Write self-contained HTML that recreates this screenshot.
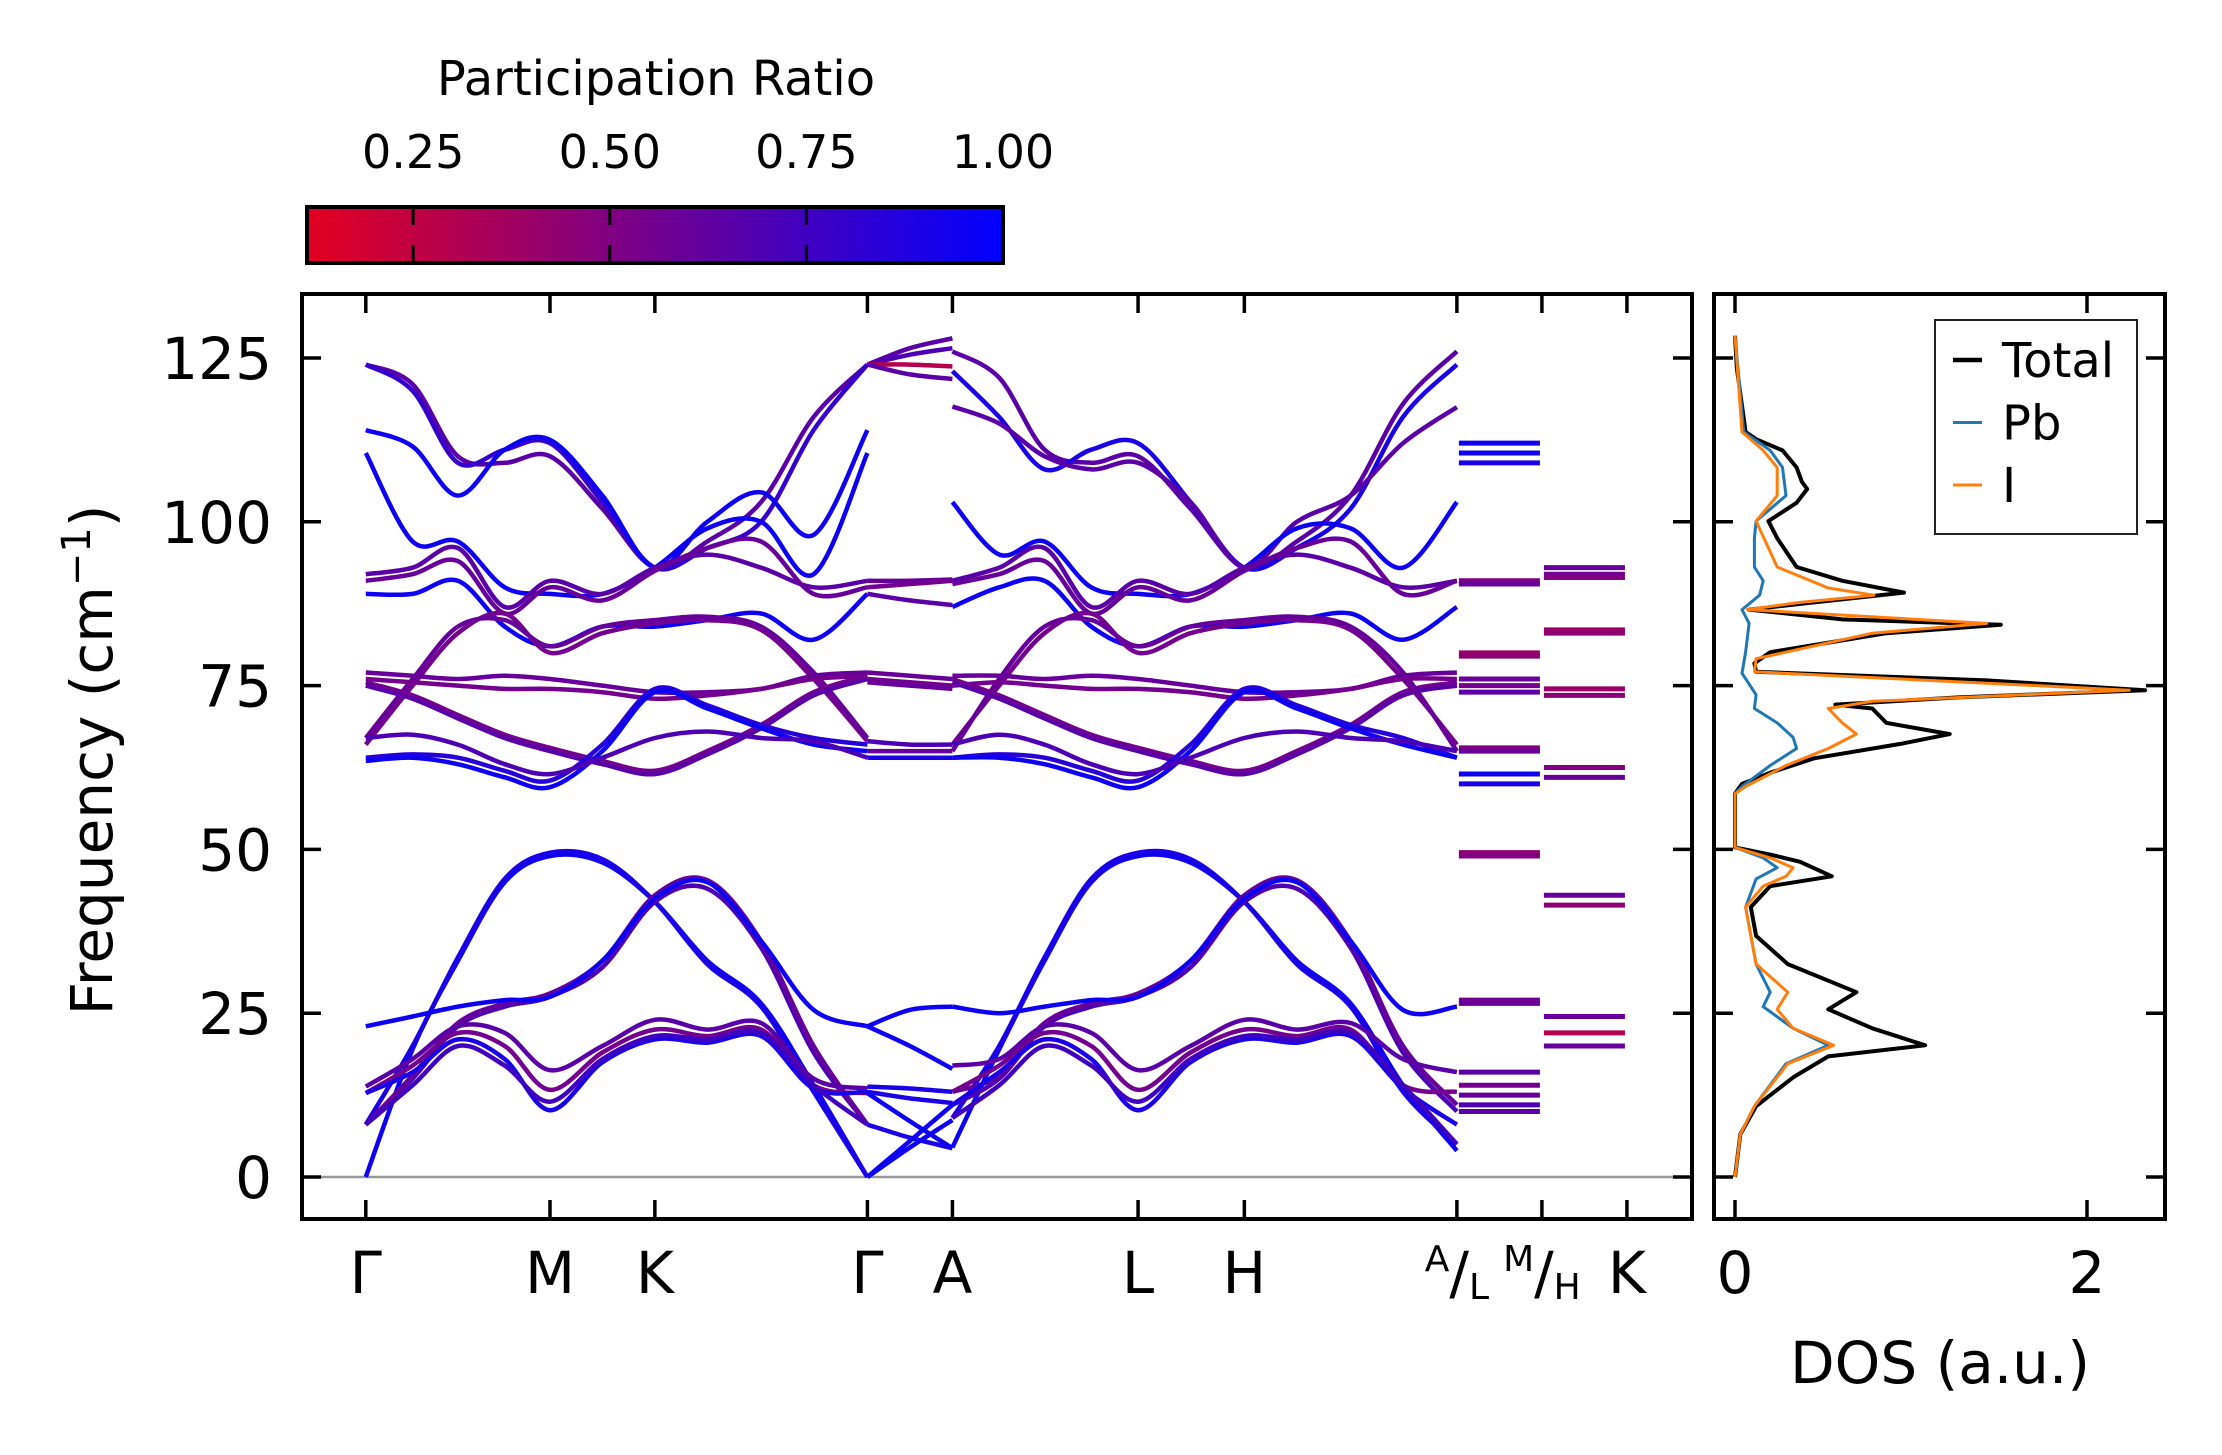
<!DOCTYPE html>
<html><head><meta charset="utf-8"><style>
html,body{margin:0;padding:0;background:#fff;}
svg{display:block;font-family:"DejaVu Sans","Liberation Sans",sans-serif;}
</style></head><body>
<svg id="fig" width="2222" height="1455" viewBox="0 0 2222 1455" xmlns="http://www.w3.org/2000/svg">
<defs>
<linearGradient id="cbg" x1="0" x2="1" y1="0" y2="0">
<stop offset="0" stop-color="rgb(227,0,32)"/><stop offset="1" stop-color="rgb(0,0,255)"/>
</linearGradient>
</defs>
<g id="colorbar">
<text x="656" y="95" font-size="48" text-anchor="middle">Participation Ratio</text>
<rect x="307" y="207" width="696" height="56" fill="url(#cbg)" stroke="#000" stroke-width="4"/>
</g>
<g id="bands"></g>
<g id="dos"></g>
<g id="axes"></g>
</svg>
<script>
// ---- data ----
const yTicks = [0,25,50,75,100,125];
const kLabels = ["Γ","M","K","Γ","A","L","H","A/L","M/H","K"];
const kTicks = [0,130,204,354,414,545,620,770,830,890];
const cbTicks = [0.25,0.5,0.75,1.0];
const cbTickLabels = ["0.25","0.50","0.75","1.00"];
const s1Knots = [0,33,65,98,130,167,204,241,279,316,354];
const s2Knots = [414,447,479,512,545,582,620,657,695,732,770];
const gaKnots = [354,384,414];
const s1Bands = [
[124,121,110,109,110,102,93,97,103,116,124],
[124,120,109,111,112,103,93,96,100,114,124],
[114,111.5,104,111,112.5,104,93,100,104.5,98,114],
[110.5,97,97,90,89,89,93,99,100,92,110.5],
[92,93,96,87,91,89,93,95,93,90,91],
[91,92,94,86,90,88,92.5,96,97,89,90],
[89,89,91,84,81,84,84,85,86,82,89],
[66,75,83,86,80,83,84.5,85,83.5,76,66.5],
[67,76,84,85,81,84,85,85.5,84,77,67],
[77,76.5,76,76.5,76,75,74,74,74.5,76.5,77],
[76,75.5,75,74.5,74.5,74,73,73.5,74.5,76,76.5],
[75.5,73.5,70.5,67.5,65.5,63.5,62,65,69,74,76.5],
[75,73,70,67,65,63,61.5,64.5,68.5,73.5,76],
[64,64.5,64,62,60.5,66,74.5,72,69,67,66],
[63.5,64,63,61,59.5,65,74,71.5,68.5,66,65],
[67,67.5,66,63,61.5,64,67,68,67,66.5,64],
[0,19.5,33,45,49,48,42,33,26.5,14,0],
[8,20,33.5,45.5,49.5,48.5,42,32.5,26,13,0],
[8,15,23,26,27.5,32,42,44,35,19,8],
[8,15.5,23.5,26.5,28,33,43,45.3,36,20,8],
[13.8,18,23,22,16.3,20,24,22.5,23.5,15,13.5],
[12.8,17,22,20,13.3,19,22.5,21.5,22.5,14,12.8],
[12.8,16,21,18,10.2,17.5,21,20.5,21.5,13.5,13],
[8,14,20,17,11.5,18,21.5,21,22,14,8],
[23,24.5,26,27,27.5,33,42.5,45,36,25.5,23]
];
const s1Ratio = [0.65,0.8,0.95,0.95,0.65,0.6,0.95,0.55,0.6,0.6,0.55,0.55,0.65,0.85,0.95,0.7,0.95,0.9,0.7,0.6,0.65,0.55,0.9,0.75,0.95];
const s2Bands = [
[126,122,111,109,110,102,93,97,104,118,126],
[123,116,108,111,112,103,93,96,102,116,124],
[117.6,115,110,108,109,103,93,100,104,112,117.5],
[103,95,97,90,89,89,93,99,99,93,103],
[91,93,96,87,91,89,93,95,93,90,91],
[90.5,92,94,86,90,88,92.5,96,97,89,91],
[87,90,91,84,81,84,84,85,86,82,87],
[66,75,83,86,80,83,84.5,85,83.5,76,66],
[65,76,84,85,81,84,85,85.5,84,77,65],
[76.5,76.5,76,76.5,76,75,74,74,74.5,76.5,77],
[75,75.5,75,74.5,74.5,74,73,73.5,74.5,76,76],
[76,73.5,70.5,67.5,65.5,63.5,62,65,69,74,75.5],
[75.5,73,70,67,65,63,61.5,64.5,68.5,73.5,75],
[64,64.5,64,62,60.5,66,74.5,72,69,67,64],
[64,64,63,61,59.5,65,74,71.5,68.5,66,64],
[66,67.5,66,63,61.5,64,67,68,67,66.5,65],
[4.5,19.5,33,45,49,48,42,33,26.5,14,4],
[9,20,33.5,45.5,49.5,48.5,42,32.5,26,13,5],
[11,15,23,26,27.5,32,42,44,35,19,10],
[13,15.5,23.5,26.5,28,33,43,45.3,36,20,11],
[17,18,23,22,16.3,20,24,22.5,23.5,18,16],
[13,17,22,20,13.3,19,22.5,21.5,22.5,14,13],
[11,16,21,18,10.2,17.5,21,20.5,21.5,13.5,8],
[9,14,20,17,11.5,18,21.5,21,22,14,5],
[26,25,26,27,27.5,33,42.5,45,36,25.5,26]
];
const s2Ratio = [0.65,0.9,0.65,0.95,0.65,0.6,0.95,0.55,0.6,0.6,0.55,0.55,0.65,0.85,0.95,0.7,0.95,0.9,0.7,0.6,0.65,0.55,0.9,0.75,0.95];
const gaBands = [
[124,126.5,128],[124,125.5,126.5],[124,124,123.7],[124,122.5,121.8],
[91,91,91.2],[89,88,87.3],[90,90.5,91],
[77,76.5,76],[76,75.5,75],[75.5,75,74.5],
[66.5,66,66],[65,65,65],[64,64,64],
[23,25.5,26],[23,20,16.5],[13.8,13.5,13],[13,12,11.3],[8,6,4.4],[0,4.5,8.7],[0,5.5,11],[12.8,8.5,4.4]
];
const gaRatio = [0.65,0.7,0.3,0.65,0.6,0.65,0.55,0.6,0.55,0.6,0.7,0.6,0.9,0.95,0.95,0.9,0.9,0.9,0.95,0.95,0.95];
const lmLevels = [112,110.5,109,91,90.5,80,79.5,76,75,74,65.5,65,61.5,60,49.5,49,27,26.5,16,14,12.5,11,10];
const lmRatio = [0.95,0.95,0.9,0.5,0.6,0.4,0.45,0.6,0.55,0.65,0.5,0.6,0.95,0.9,0.45,0.5,0.55,0.6,0.65,0.55,0.6,0.7,0.65];
const hkLevels = [93,92,91.5,83.5,83,74.5,73.5,62.5,61,43,41.5,24.5,22,20];
const hkRatio = [0.6,0.55,0.5,0.4,0.45,0.4,0.45,0.5,0.6,0.6,0.45,0.6,0.3,0.6];
const dosTotalFreq = [128.4,123.5,113.7,112.6,110.9,108.3,106.1,105.0,102.9,100.1,97.5,93.1,91.0,89.2,87.7,86.6,85.1,84.3,83.0,80.1,78.4,77.1,75.8,74.3,73.2,72.1,71.5,69.3,67.6,66.1,63.9,61.7,60.0,58.5,50.3,49.2,48.1,45.9,44.4,41.2,36.8,32.5,28.2,25.6,22.7,20.1,18.4,15.2,10.8,6.5,0];
const dosTotal = [0,0.01,0.06,0.12,0.27,0.35,0.38,0.41,0.35,0.19,0.24,0.35,0.61,0.96,0.45,0.08,0.61,1.51,0.86,0.20,0.11,0.12,1.43,2.33,1.27,0.57,0.78,0.86,1.22,0.94,0.45,0.20,0.04,0,0,0.2,0.37,0.55,0.2,0.09,0.12,0.30,0.69,0.53,0.78,1.08,0.53,0.33,0.12,0.03,0];
const dosPbFreq = [128.4,113.7,110.9,108.3,104.0,100.1,97.5,93.1,91.0,88.8,86.6,84.5,80.1,76.9,73.6,71.5,69.3,67.1,65.4,62.8,59.6,58.5,50.3,48.7,47.2,45.5,41.2,32.5,28.2,26.0,22.7,20.1,17.3,10.8,6.5,0];
const dosPb = [0,0.05,0.20,0.27,0.29,0.12,0.11,0.11,0.16,0.14,0.04,0.08,0.06,0.04,0.12,0.11,0.24,0.33,0.35,0.20,0.04,0,0,0.16,0.24,0.12,0.06,0.12,0.20,0.16,0.33,0.53,0.29,0.11,0.03,0];
const dosIFreq = [128.4,113.7,110.9,108.3,104.0,100.1,93.1,89.9,88.8,87.7,86.6,84.5,83.0,79.1,77.1,74.3,72.6,71.5,69.3,67.6,65.4,62.8,59.6,58.5,50.3,48.7,47.2,45.9,44.4,41.2,32.5,28.2,25.6,22.7,20.1,17.3,10.8,6.5,0];
const dosI = [0,0.04,0.16,0.24,0.24,0.12,0.24,0.53,0.79,0.37,0.07,1.43,0.78,0.12,0.11,2.24,0.78,0.53,0.61,0.69,0.53,0.29,0.06,0,0,0.2,0.33,0.29,0.16,0.06,0.12,0.30,0.24,0.33,0.56,0.30,0.11,0.03,0];
const dosTicks = [0,2];
const legendLabels = ["Total","Pb","I"];

// ---- scales ----
const AX = {l:302, r:1692, t:294, b:1219};
const DX = {l:1714, r:2165};
const NS = "http://www.w3.org/2000/svg";
function y(f){ return 1177 - f*6.552; }
function x(d){ return 365.8 + d*1.417; }
function dx(v){ return 1735 + v*176; }
function cbx(r){ return 307 + (r-0.115)/0.885*696; }
function rc(r){ const t=Math.max(0,Math.min(1,(r-0.115)/0.885)); return `rgb(${Math.round(227*(1-t))},0,${Math.round(32+223*t)})`; }
function mk(tag, attrs, parent){ const e=document.createElementNS(NS,tag); for(const k in attrs) e.setAttribute(k,attrs[k]); parent.appendChild(e); return e; }
function smooth(pts){
  let d=`M${pts[0][0].toFixed(1)},${pts[0][1].toFixed(1)}`;
  for(let i=0;i<pts.length-1;i++){
    const p0=pts[i-1]||pts[i], p1=pts[i], p2=pts[i+1], p3=pts[i+2]||pts[i+1];
    const c1=[p1[0]+(p2[0]-p0[0])/6, p1[1]+(p2[1]-p0[1])/6];
    const c2=[p2[0]-(p3[0]-p1[0])/6, p2[1]-(p3[1]-p1[1])/6];
    d+=` C${c1[0].toFixed(1)},${c1[1].toFixed(1)} ${c2[0].toFixed(1)},${c2[1].toFixed(1)} ${p2[0].toFixed(1)},${p2[1].toFixed(1)}`;
  }
  return d;
}
const bands=document.getElementById('bands');
const axes=document.getElementById('axes');
const dos=document.getElementById('dos');
const cb=document.getElementById('colorbar');

// colorbar ticks
cbTicks.forEach((t,i)=>{
  const X=cbx(t);
  if(i<cbTicks.length-1){
    const a=mk('line',{x1:X,x2:X,y1:207,y2:225,stroke:'#000','stroke-width':3},cb);
    
    
    const b=mk('line',{x1:X,x2:X,y1:245,y2:263,stroke:'#000','stroke-width':3},cb);
    
    
  }
  const tx=mk('text',{x:X,y:168,'font-size':46,'text-anchor':'middle'},cb);
  tx.textContent=cbTickLabels[i];
  
  
});

// zero line
const zl=mk('line',{x1:AX.l,x2:AX.r,y1:y(0),y2:y(0),stroke:'#999','stroke-width':2.5},bands);



function drawSet(knots, set, ratios, name){
  set.forEach((b,i)=>{
    const pts=b.map((f,j)=>[x(knots[j]), y(f)]);
    const p=mk('path',{d:smooth(pts),fill:'none',stroke:rc(ratios[i]),'stroke-width':4.5,'stroke-linecap':'butt'},bands);
    
    
  });
}
drawSet(s1Knots,s1Bands,s1Ratio,'band-gamma-m-k-gamma');
drawSet(gaKnots,gaBands,gaRatio,'band-gamma-a');
drawSet(s2Knots,s2Bands,s2Ratio,'band-a-l-h-a');
lmLevels.forEach((f,i)=>{
  const l=mk('line',{x1:x(770)+2,x2:x(830)-2,y1:y(f),y2:y(f),stroke:rc(lmRatio[i]),'stroke-width':5},bands);
  
  
});
hkLevels.forEach((f,i)=>{
  const l=mk('line',{x1:x(830)+2,x2:x(890)-2,y1:y(f),y2:y(f),stroke:rc(hkRatio[i]),'stroke-width':5},bands);
  
  
});

// main axes frame
const fr=mk('rect',{x:AX.l,y:AX.t,width:AX.r-AX.l,height:AX.b-AX.t,fill:'none',stroke:'#000','stroke-width':4},axes);


yTicks.forEach(t=>{
  const Y=y(t);
  const a=mk('line',{x1:AX.l,x2:AX.l+19,y1:Y,y2:Y,stroke:'#000','stroke-width':3.5},axes);
  
  
  const b=mk('line',{x1:AX.r-19,x2:AX.r,y1:Y,y2:Y,stroke:'#000','stroke-width':3.5},axes);
  
  
  const c=mk('line',{x1:DX.l,x2:DX.l+19,y1:Y,y2:Y,stroke:'#000','stroke-width':3.5},axes);
  
  
  const d=mk('line',{x1:DX.r-19,x2:DX.r,y1:Y,y2:Y,stroke:'#000','stroke-width':3.5},axes);
  
  
  const tx=mk('text',{x:272,y:Y+21,'font-size':58,'text-anchor':'end'},axes);
  tx.textContent=String(t);
  
  
});
kTicks.forEach((k,i)=>{
  const X=x(k);
  const a=mk('line',{x1:X,x2:X,y1:AX.t,y2:AX.t+19,stroke:'#000','stroke-width':3.5},axes);
  
  
  const b=mk('line',{x1:X,x2:X,y1:AX.b-19,y2:AX.b,stroke:'#000','stroke-width':3.5},axes);
  
  
  const tx=mk('text',{x:X,y:1293,'font-size':58,'text-anchor':'middle'},axes);
  
  
  const lab=kLabels[i];
  if(lab.includes('/')){
    const [p,q]=lab.split('/');
    const s1=mk('tspan',{'font-size':36,dy:-22},tx); s1.textContent=p;
    const s2=mk('tspan',{dy:22},tx); s2.textContent='/';
    const s3=mk('tspan',{'font-size':36,dy:6},tx); s3.textContent=q;
  } else tx.textContent=lab;
});
const yl=mk('text',{x:0,y:0,'font-size':58,'text-anchor':'middle',transform:'translate(112,760) rotate(-90)'},axes);


yl.textContent='Frequency (cm';
const sup=mk('tspan',{'font-size':40,dy:-22},yl); sup.textContent='−1';
const cl=mk('tspan',{dy:22},yl); cl.textContent=')';

// DOS panel
function dosPath(fr, vals, color, w, name){
  const d=fr.map((f,i)=>(i?'L':'M')+dx(vals[i]).toFixed(1)+','+y(f).toFixed(1)).join(' ');
  const p=mk('path',{d:d,fill:'none',stroke:color,'stroke-width':w,'stroke-linejoin':'round'},dos);
  
  
}
dosPath(dosTotalFreq,dosTotal,'#000',4,'dos-total-line');
dosPath(dosPbFreq,dosPb,'#1f77b4',3,'dos-pb-line');
dosPath(dosIFreq,dosI,'#ff7f0e',3,'dos-i-line');
const df=mk('rect',{x:DX.l,y:AX.t,width:DX.r-DX.l,height:AX.b-AX.t,fill:'none',stroke:'#000','stroke-width':4},axes);


dosTicks.forEach(v=>{
  const X=dx(v);
  const a=mk('line',{x1:X,x2:X,y1:AX.b-19,y2:AX.b,stroke:'#000','stroke-width':3.5},axes);
  
  
  const b=mk('line',{x1:X,x2:X,y1:AX.t,y2:AX.t+19,stroke:'#000','stroke-width':3.5},axes);
  
  
  const tx=mk('text',{x:X,y:1293,'font-size':58,'text-anchor':'middle'},axes);
  tx.textContent=String(v);
  
  
});
const dl=mk('text',{x:1940,y:1383,'font-size':58,'text-anchor':'middle'},axes);
dl.textContent='DOS (a.u.)';



// legend
const lg=mk('g',{},axes);


const lb=mk('rect',{x:1935,y:320,width:202,height:214,fill:'#fff',stroke:'#222','stroke-width':2},lg);


const legColors=['#000','#1f77b4','#ff7f0e'];
const legW=[4.5,3,3];
legendLabels.forEach((t,i)=>{
  const Y=360+i*62.5;
  const l=mk('line',{x1:1953,x2:1982,y1:Y,y2:Y,stroke:legColors[i],'stroke-width':legW[i]},lg);
  
  
  const tx=mk('text',{x:2002,y:Y+17,'font-size':48},lg);
  tx.textContent=t;
  
  
});
</script>
</body></html>
